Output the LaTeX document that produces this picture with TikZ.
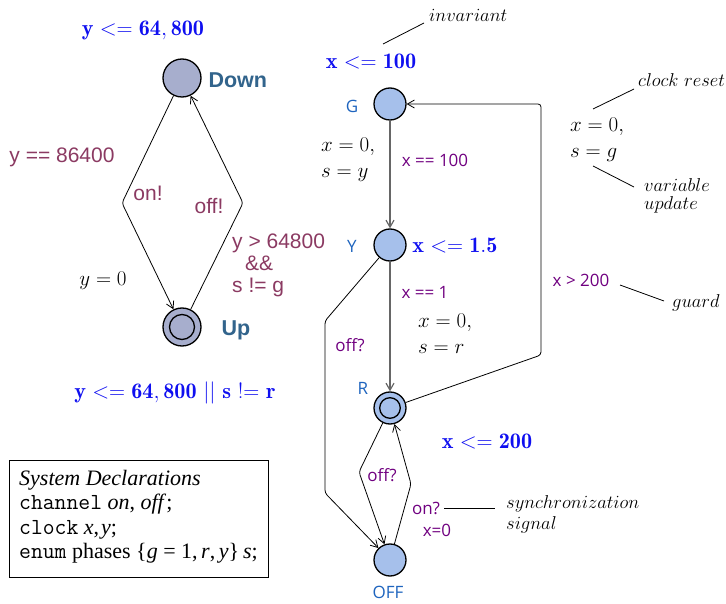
\RequirePackage{fix-cm}
\documentclass[tikz,border=0pt]{standalone}
\usepackage{fontspec}
\newfontfamily\arialf{Liberation Sans}
\newfontfamily\opensf{Open Sans}
\newfontfamily\timesf{Liberation Serif}
\usetikzlibrary{arrows.meta}
\definecolor{stateA}{RGB}{167,174,205}
\definecolor{stateB}{RGB}{166,192,235}
\definecolor{invblue}{RGB}{15,15,240}
\definecolor{maroon}{RGB}{139,58,98}
\definecolor{purp}{RGB}{112,0,128}
\definecolor{locA}{RGB}{50,100,140}
\definecolor{locB}{RGB}{30,100,190}
\tikzset{
  stA/.style={circle,draw,line width=1.3pt,fill=stateA,minimum size=38pt,inner sep=0pt},
  stB/.style={circle,draw,line width=1.3pt,fill=stateB,minimum size=32pt,inner sep=0pt},
  edge/.style={line width=0.8pt,rounded corners=3pt,-{Straight Barb[length=7pt,width=8pt]}},
  gedge/.style={edge,draw=black!60,line width=1.2pt},
  ann/.style={line width=0.8pt},
  inv/.style={text=invblue,font=\fontsize{22.2}{26}\selectfont},
  lblA/.style={text=locA,font=\arialf\bfseries\fontsize{21.5}{24}\selectfont},
  lblB/.style={text=locB,font=\opensf\fontsize{17}{20}\selectfont},
  sansA/.style={text=maroon,font=\arialf\fontsize{21}{22}\selectfont,inner sep=0pt},
  sansB/.style={text=purp,font=\opensf\fontsize{17}{20}\selectfont,inner sep=0pt},
  mathl/.style={font=\fontsize{21}{26}\selectfont,inner sep=0pt,align=left},
  note/.style={font=\fontsize{18.6}{19}\selectfont,inner sep=0pt,align=left},
}
\begin{document}
\begin{tikzpicture}[x=1pt,y=-1pt]
\useasboundingbox (0,0) rectangle (726,604);
% ---------- left automaton ----------
\node[stA] (down) at (182,78) {};
\node[stA] (up) at (182,327) {};
\draw[line width=1.3pt] (up.center) circle (12.5pt);
\node[lblA,anchor=west] (downl) at (205,80) {Down};
\node[lblA,anchor=west] (upl) at (218,330) {Up};
\node[inv] (invdown) at (143,30) {$\mathbf{y} <= \mathbf{64,800}$};
\node[inv] (invup) at (175,393) {$\mathbf{y} <= \mathbf{64,800}\ ||\ \mathbf{s\ !{=}\ r}$};
\coordinate (cl) at (122,203);
\coordinate (cr) at (243,203);
\draw[edge] (down) -- (cl) -- (up);
\draw[edge] (up) -- (cr) -- (down);
\node[sansA] (g1) at (62,157) {y == 86400};
\node[sansA] (s1) at (148,193) {on!};
\node[sansA] (s2) at (209,206) {off!};
\node[sansA,align=left,anchor=west] (g2) at (232,265) {y > 64800\\[0pt]\hspace*{13pt}\&\&\\[0pt]s != g};
\node[mathl] (u1) at (103,281) {$y=0$};
% ---------- declarations ----------
\node[draw,line width=0.8pt,anchor=north west,minimum width=259pt,minimum height=117pt,inner sep=0pt] (decl) at (9,460) {};
\node[anchor=north west,inner sep=0pt,align=left,font=\timesf\fontsize{22}{24.5}\selectfont] (decltext) at (19,470)
 {\textit{System Declarations}\\
  {\fontsize{23}{24.5}\ttfamily channel} \textit{on}, \textit{off};\\
  {\fontsize{23}{24.5}\ttfamily clock} \textit{x},\hspace{2pt}\textit{y};\\
  {\fontsize{23}{24.5}\ttfamily enum} phases \{\textit{g}\hspace{5.5pt}=\hspace{5.5pt}1,\hspace{3.5pt}\textit{r},\hspace{3.5pt}\textit{y}\}\hspace{4pt}\textit{s};};
% ---------- right automaton ----------
\node[stB] (g) at (390,104) {};
\node[stB] (y) at (390,245) {};
\node[stB] (r) at (390,408) {};
\draw[line width=1.3pt] (r.center) circle (10.3pt);
\node[stB] (off) at (390,560) {};
\node[lblB] (gl) at (352,106) {G};
\node[lblB] (yl) at (352,246) {Y};
\node[lblB] (rl) at (363,388) {R};
\node[lblB] (offl) at (388,592) {OFF};
\node[inv] (invg) at (371,62) {$\mathbf{x} <= \mathbf{100}$};
\node[inv] (invy) at (455,246) {$\mathbf{x} <= \mathbf{1.5}$};
\node[inv] (invr) at (487,442) {$\mathbf{x} <= \mathbf{200}$};
% edges
\draw[gedge] (g) -- (y);
\draw[gedge] (y) -- (r);
\coordinate (rg1) at (541,355);
\coordinate (rg2) at (541,104);
\draw[edge] (r) -- (rg1) -- (rg2) -- (g);
\coordinate (yo1) at (325,321);
\coordinate (yo2) at (325,493);
\draw[edge] (y) -- (yo1) -- (yo2) -- (off);
\coordinate (ro1) at (359,472);
\draw[edge] (r) -- (ro1) -- (off);
\coordinate (or1) at (411,484);
\draw[edge] (off) -- (or1) -- (r);
% edge labels
\node[sansB] (e1) at (435,160) {x == 100};
\node[sansB] (e2) at (425,292) {x == 1};
\node[sansB] (e3) at (581,280) {x > 200};
\node[sansB] (e4) at (350,345) {off?};
\node[sansB] (e5) at (382,475) {off?};
\node[sansB] (e6) at (426,508) {on?};
\node[sansB] (e7) at (437,530) {x=0};
\node[mathl,anchor=west] (a1) at (321,160) {$x=0,$\\$s=y$};
\node[mathl,anchor=west] (a2) at (570,140) {$x=0,$\\$s=g$};
\node[mathl,anchor=west] (a3) at (418,334) {$x=0,$\\$s=r$};
% annotations
\node[note,anchor=west] (n1) at (429,15) {$invariant$};
\node[note,anchor=west] (n2) at (638,80) {$clock\ reset$};
\node[note,anchor=west,font=\fontsize{18.6}{18}\selectfont] (n3) at (644,196) {$variable$\\$update$};
\node[note,anchor=west] (n4) at (672,303) {$guard$};
\node[note,anchor=west,font=\fontsize{18.6}{21}\selectfont] (n5) at (506,514) {$synchronization$\\$signal$};
\coordinate (l1a) at (383,44); \coordinate (l1b) at (424,23);
\draw[ann] (l1a) -- (l1b);
\coordinate (l2a) at (593,109); \coordinate (l2b) at (634,89);
\draw[ann] (l2a) -- (l2b);
\coordinate (l3a) at (593,166); \coordinate (l3b) at (634,187);
\draw[ann] (l3a) -- (l3b);
\coordinate (l4a) at (620,285); \coordinate (l4b) at (664,301);
\draw[ann] (l4a) -- (l4b);
\coordinate (l5a) at (444,508); \coordinate (l5b) at (495,508);
\draw[ann] (l5a) -- (l5b);
\end{tikzpicture}
\end{document}
